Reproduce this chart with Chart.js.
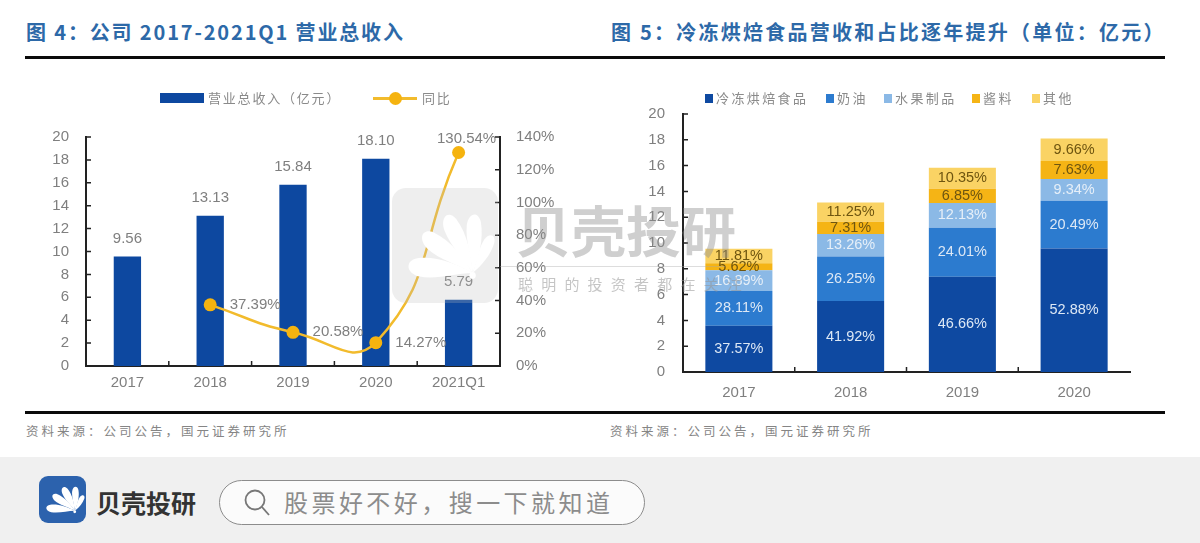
<!DOCTYPE html>
<html lang="zh">
<head>
<meta charset="utf-8">
<title>营业总收入</title>
<script src="https://cdn.jsdelivr.net/npm/chart.js@4"></script>
<style>
  html, body { margin: 0; padding: 0; background: #fff; }
  body { width: 1200px; height: 543px; position: relative; overflow: hidden; font-family: "Noto Sans CJK SC", sans-serif; }
  canvas { position: absolute; top: 60px; }
  #revenueChart { left: 0; }
  #stackChart { left: 600px; }
  .title { position: absolute; top: 19px; font-size: 20px; line-height: 26px; font-weight: 700; color: #2d69a8; letter-spacing: 1.85px; white-space: pre; }
  .rule { position: absolute; left: 25px; width: 1140px; height: 3px; background: #0a0a0a; }
  .source { position: absolute; top: 423px; font-size: 12.5px; line-height: 16px; color: #858585; letter-spacing: 3px; white-space: pre; }
  .legend { position: absolute; top: 89px; font-size: 13px; line-height: 18px; color: #8a8a8a; white-space: pre; letter-spacing: 1.8px; }
  .swatch { position: absolute; }
  #footer { position: absolute; left: 0; top: 457px; width: 1200px; height: 86px; background: #f0f0f0; }
  #logo { position: absolute; left: 39px; top: 19px; width: 47px; height: 47px; border-radius: 9px; background: #2c62ad; }
  #brand { position: absolute; left: 96px; top: 28px; font-size: 25px; line-height: 34px; font-weight: 700; color: #333; letter-spacing: 0; }
  #search { position: absolute; left: 219px; top: 23px; width: 424px; height: 43px; border: 1.5px solid #8c8c8c; border-radius: 23px; background: #fbfbfb; }
  #searchText { position: absolute; left: 64px; top: 3px; font-size: 24px; line-height: 36px; color: #8c8c8c; letter-spacing: 3.45px; white-space: pre; }
  #wmBox { position: absolute; left: 392px; top: 188px; width: 106px; height: 115px; border-radius: 14px; background: rgba(190,190,190,.26); pointer-events: none; }
  #wmText { position: absolute; left: 516px; top: 192px; font-size: 55px; line-height: 72px; font-weight: 700; color: rgba(140,140,140,.42); white-space: pre; }
  #wmLine { position: absolute; left: 500px; top: 266px; width: 225px; height: 1px; background: rgba(170,170,170,.4); }
  #wmSub { position: absolute; left: 518px; top: 274px; font-size: 15px; line-height: 20px; color: rgba(150,150,150,.55); letter-spacing: 8.2px; white-space: pre; }
</style>
</head>
<body>
<div class="title" style="left:26px">图 4：公司 2017-2021Q1 营业总收入</div>
<div class="title" style="left:611px;letter-spacing:2.25px">图 5：冷冻烘焙食品营收和占比逐年提升（单位：亿元）</div>
<div class="rule" style="top:56px"></div>

<canvas id="revenueChart" width="600" height="345"></canvas>
<canvas id="stackChart" width="600" height="345"></canvas>

<!-- left legend -->
<div class="swatch" style="left:160px;top:93px;width:44px;height:10px;background:#0d48a0"></div>
<div class="legend" style="left:208px" id="legendBar"></div>
<div class="swatch" style="left:373px;top:97px;width:44px;height:2.5px;background:#f2bb2c"></div>
<div class="swatch" style="left:389px;top:92px;width:13px;height:13px;border-radius:50%;background:#f5b30f"></div>
<div class="legend" style="left:422px" id="legendLine"></div>
<div id="legendStack"></div>

<div class="rule" style="top:411px"></div>
<div class="source" style="left:26px">资料来源：公司公告，国元证券研究所</div>
<div class="source" style="left:610px">资料来源：公司公告，国元证券研究所</div>

<svg width="0" height="0" style="position:absolute">
  <defs>
    <g id="petals" fill="#fff">
      <path id="petal" d="M76 74 C60 74 42 80 26 77 C13 74 12 63 24 61 C42 59 62 66 76 74 Z"/>
      <use href="#petal" transform="rotate(30 76 74) translate(76 74) scale(.95) translate(-76 -74)"/>
      <use href="#petal" transform="rotate(58 76 74) translate(76 74) scale(.92) translate(-76 -74)"/>
      <use href="#petal" transform="rotate(86 76 74) translate(76 74) scale(.84) translate(-76 -74)"/>
      <use href="#petal" transform="rotate(114 76 74) translate(76 74) scale(.62) translate(-76 -74)"/>
      <circle cx="76" cy="76" r="3"/>
    </g>
  </defs>
</svg>

<div id="footer">
  <div id="logo"><svg width="47" height="47" viewBox="0 0 100 100"><use href="#petals"/></svg></div>
  <div id="brand">贝壳投研</div>
  <div id="search">
    <svg width="30" height="30" viewBox="0 0 30 30" style="position:absolute;left:22px;top:6px" fill="none" stroke="#777" stroke-width="1.8">
      <circle cx="13" cy="13" r="9.5"/><path d="M20 20 L27 28"/>
    </svg>
    <div id="searchText">股票好不好，搜一下就知道</div>
  </div>
</div>

<div id="wmBox"><svg width="106" height="115" viewBox="0 0 100 100" preserveAspectRatio="none"><use href="#petals"/></svg></div>
<div id="wmText">贝壳投研</div>
<div id="wmLine"></div>
<div id="wmSub">聪明的投资者都在关注</div>

<script>
// figure 4
const years4 = ['2017', '2018', '2019', '2020', '2021Q1'];
const revenue = [9.56, 13.13, 15.84, 18.10, 5.79];
const revenueText = ['9.56', '13.13', '15.84', '18.10', '5.79'];
const growth = [null, 37.39, 20.58, 14.27, 130.54];
const growthText = [null, '37.39%', '20.58%', '14.27%', '130.54%'];
const revenueTicks = [0, 2, 4, 6, 8, 10, 12, 14, 16, 18, 20];
const growthTicks = [0, 20, 40, 60, 80, 100, 120, 140];

// figure 5
const years5 = ['2017', '2018', '2019', '2020'];
const stackNames = ['冷冻烘焙食品', '奶油', '水果制品', '酱料', '其他'];
const frozen = [3.59, 5.50, 7.39, 9.57];
const cream = [2.69, 3.45, 3.80, 3.71];
const fruit = [1.61, 1.74, 1.92, 1.69];
const sauce = [0.54, 0.96, 1.09, 1.38];
const other = [1.13, 1.48, 1.64, 1.75];
const frozenShare = ['37.57%', '41.92%', '46.66%', '52.88%'];
const creamShare = ['28.11%', '26.25%', '24.01%', '20.49%'];
const fruitShare = ['16.89%', '13.26%', '12.13%', '9.34%'];
const sauceShare = ['5.62%', '7.31%', '6.85%', '7.63%'];
const otherShare = ['11.81%', '11.25%', '10.35%', '9.66%'];

const stackColors = ['#0e49a1', '#2c7bcf', '#8bb9e6', '#f5b415', '#fad364'];
const shareColors = ['#dde8f5', '#dde8f5', '#e6eff8', '#6e5510', '#6e5510'];
const legendLeft = [705, 826, 884, 972, 1032];

const tickGray = '#7f7f7f';
const numFont = '"Liberation Sans", Arial, sans-serif';

document.getElementById('legendBar').textContent = '营业总收入（亿元）';
document.getElementById('legendLine').textContent = '同比';

// legend of figure 5
const legendStack = document.getElementById('legendStack');
stackNames.forEach((name, i) => {
  const box = document.createElement('div');
  box.className = 'swatch';
  box.style.cssText = `left:${legendLeft[i]}px;top:94px;width:8px;height:9px;background:${stackColors[i]}`;
  legendStack.appendChild(box);
  const txt = document.createElement('div');
  txt.className = 'legend';
  txt.style.left = (legendLeft[i] + 11) + 'px';
  txt.style.letterSpacing = '2.4px';
  txt.textContent = name;
  legendStack.appendChild(txt);
});

// small ticks pointing into the plot, the source charts have them on the inside
const innerTicks = {
  id: 'innerTicks',
  afterDatasetsDraw(chart) {
    const ctx = chart.ctx;
    const area = chart.chartArea;
    ctx.save();
    ctx.strokeStyle = '#222';
    ctx.lineWidth = 1.5;
    ctx.beginPath();
    Object.values(chart.scales).forEach(scale => {
      if (scale.axis === 'y') {
        const inward = scale.position === 'left' ? 5 : -5;
        const x = scale.position === 'left' ? area.left : area.right;
        scale.ticks.forEach(t => {
          const y = scale.getPixelForValue(t.value);
          ctx.moveTo(x, y);
          ctx.lineTo(x + inward, y);
        });
      } else {
        for (let i = 0; i < scale.ticks.length - 1; i++) {
          const x = (scale.getPixelForTick(i) + scale.getPixelForTick(i + 1)) / 2;
          ctx.moveTo(x, area.bottom);
          ctx.lineTo(x, area.bottom - 5);
        }
      }
    });
    ctx.stroke();
    ctx.restore();
  }
};

// data labels for figure 4
const revenueLabels = {
  id: 'revenueLabels',
  afterDatasetsDraw(chart) {
    const ctx = chart.ctx;
    const x = chart.scales.x;
    const y = chart.scales.y;
    const y1 = chart.scales.y1;
    ctx.save();
    ctx.font = '15px ' + numFont;
    ctx.fillStyle = tickGray;
    ctx.textAlign = 'center';
    ctx.textBaseline = 'middle';
    revenue.forEach((v, i) => {
      ctx.fillText(revenueText[i], x.getPixelForValue(i), y.getPixelForValue(v) - 18);
    });
    growth.forEach((v, i) => {
      if (v === null) return;
      const last = i === growth.length - 1;
      const px = x.getPixelForValue(i) + (last ? 8 : 45);
      const py = y1.getPixelForValue(v) + (last ? -14 : 0);
      ctx.fillText(growthText[i], px, py);
    });
    ctx.restore();
  }
};

// share labels in the middle of each stacked segment
const shareLabels = {
  id: 'shareLabels',
  afterDatasetsDraw(chart) {
    const ctx = chart.ctx;
    ctx.save();
    ctx.font = '14.5px ' + numFont;
    ctx.textAlign = 'center';
    ctx.textBaseline = 'middle';
    chart.data.datasets.forEach((ds, d) => {
      chart.getDatasetMeta(d).data.forEach((bar, i) => {
        ctx.fillStyle = shareColors[d];
        ctx.fillText(ds.shares[i], bar.x, (bar.y + bar.base) / 2);
      });
    });
    ctx.restore();
  }
};

new Chart(document.getElementById('revenueChart'), {
  type: 'bar',
  data: {
    labels: years4,
    datasets: [
      {
        type: 'line',
        label: '同比',
        data: growth,
        yAxisID: 'y1',
        borderColor: '#f2bb2c',
        borderWidth: 2.5,
        backgroundColor: '#f5b30f',
        pointBackgroundColor: '#f5b30f',
        pointBorderWidth: 0,
        pointRadius: 6.5,
        tension: 0.5,
        order: 0
      },
      {
        label: '营业总收入（亿元）',
        data: revenue,
        yAxisID: 'y',
        backgroundColor: '#0d48a0',
        barPercentage: 1,
        categoryPercentage: 0.33,
        order: 1
      }
    ]
  },
  options: {
    responsive: false,
    animation: false,
    layout: { padding: { top: 77, left: 0, right: 0, bottom: 0 } },
    plugins: { legend: { display: false }, tooltip: { enabled: false } },
    scales: {
      x: {
        grid: { display: false },
        border: { color: '#222', width: 2 },
        ticks: { color: tickGray, font: { family: numFont, size: 15 }, padding: 0 },
        afterFit(scale) { scale.height = 39; }
      },
      y: {
        min: 0,
        max: 20,
        position: 'left',
        grid: { display: false },
        border: { color: '#222', width: 2 },
        afterBuildTicks(scale) { scale.ticks = revenueTicks.map(v => ({ value: v })); },
        ticks: { color: tickGray, font: { family: numFont, size: 15 }, padding: 9 },
        afterFit(scale) { scale.width = 86; }
      },
      y1: {
        min: 0,
        max: 140,
        position: 'right',
        grid: { display: false },
        border: { color: '#222', width: 2 },
        afterBuildTicks(scale) { scale.ticks = growthTicks.map(v => ({ value: v })); },
        ticks: { color: tickGray, font: { family: numFont, size: 15 }, padding: 8, callback: v => v + '%' },
        afterFit(scale) { scale.width = 100; }
      }
    }
  },
  plugins: [revenueLabels, innerTicks]
});

const stackValues = [frozen, cream, fruit, sauce, other];
const stackShares = [frozenShare, creamShare, fruitShare, sauceShare, otherShare];

new Chart(document.getElementById('stackChart'), {
  type: 'bar',
  data: {
    labels: years5,
    datasets: stackNames.map((name, i) => ({
      label: name,
      data: stackValues[i],
      shares: stackShares[i],
      backgroundColor: stackColors[i],
      barPercentage: 1,
      categoryPercentage: 0.6
    }))
  },
  options: {
    responsive: false,
    animation: false,
    layout: { padding: { top: 54, left: 0, right: 70, bottom: 0 } },
    plugins: { legend: { display: false }, tooltip: { enabled: false } },
    scales: {
      x: {
        stacked: true,
        grid: { display: false },
        border: { color: '#222', width: 2 },
        ticks: { color: tickGray, font: { family: numFont, size: 15 }, padding: 4 },
        afterFit(scale) { scale.height = 33; }
      },
      y: {
        stacked: true,
        min: 0,
        max: 20,
        grid: { display: false },
        border: { color: '#222', width: 2 },
        afterBuildTicks(scale) { scale.ticks = revenueTicks.map(v => ({ value: v })); },
        ticks: { color: tickGray, font: { family: numFont, size: 15 }, padding: 10 },
        afterFit(scale) { scale.width = 83; }
      }
    }
  },
  plugins: [shareLabels, innerTicks]
});
</script>
</body>
</html>
